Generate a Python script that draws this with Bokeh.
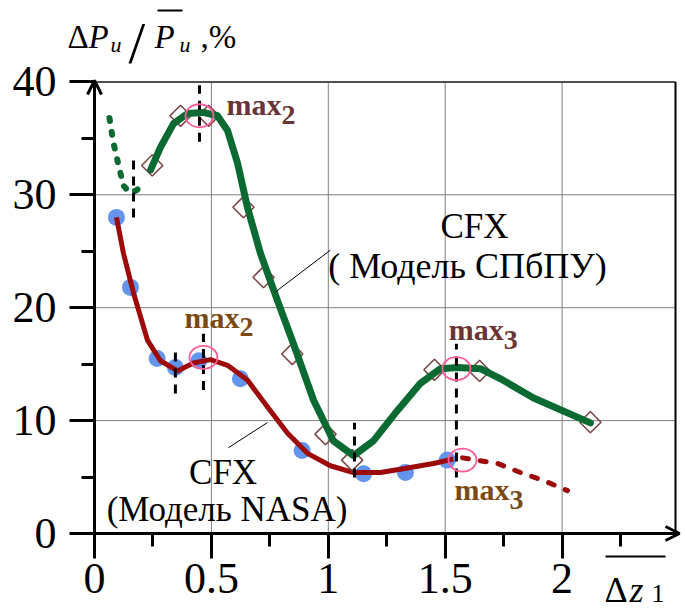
import numpy as np
from bokeh.plotting import figure
from bokeh.models import Range1d, FixedTicker, Label, Arrow, OpenHead
from bokeh.embed import file_html
from bokeh.resources import INLINE

# ---- axes ----
x_ticks = [0, 0.5, 1, 1.5, 2]
x_tick_labels = ["0", "0.5", "1", "1.5", "2"]
x_minor = [0.25, 0.75, 1.25, 1.75, 2.25]
y_ticks = [0, 10, 20, 30, 40]
y_tick_labels = ["0", "10", "20", "30", "40"]
y_minor = [5, 15, 25, 35]
x_grid = [0.5, 1, 1.5, 2]
y_grid = [10, 20, 30]
X_MAX = 2.485
Y_MAX = 40

# ---- CFX (Модель NASA): points ----
nasa_x = [0.094, 0.154, 0.268, 0.346, 0.446, 0.624, 0.888, 1.151, 1.33, 1.509]
nasa_y = [28.0, 21.8, 15.5, 14.7, 15.3, 13.7, 7.35, 5.3, 5.4, 6.5]
# curve
nasa_cx = [0.094, 0.124, 0.167, 0.227, 0.282, 0.355, 0.423, 0.496, 0.569, 0.654,
           0.740, 0.825, 0.911, 1.009, 1.108, 1.223, 1.339, 1.450, 1.535]
nasa_cy = [28.0, 24.8, 21.3, 17.1, 15.3, 14.4, 15.1, 15.4, 14.9, 13.6,
           11.2, 8.9, 7.1, 6.0, 5.4, 5.4, 5.8, 6.2, 6.6]
# dashed extension
nasa_ex = [1.574, 1.724, 1.822, 1.920, 2.023]
nasa_ey = [6.7, 6.2, 5.4, 4.7, 3.8]

# ---- CFX (Модель СПбПУ): points ----
spb_x = [0.247, 0.368, 0.488, 0.637, 0.723, 0.846, 0.988, 1.102, 1.454, 1.647, 2.121]
spb_y = [32.6, 37.0, 37.0, 28.9, 22.7, 15.9, 8.8, 6.5, 14.5, 14.4, 9.86]
spb_cx = [0.240, 0.282, 0.338, 0.398, 0.466, 0.526, 0.569, 0.612, 0.654, 0.710,
          0.783, 0.851, 0.937, 1.022, 1.108, 1.193, 1.296, 1.394, 1.480, 1.553,
          1.651, 1.737, 1.878, 2.121]
spb_cy = [32.2, 34.2, 36.3, 37.2, 37.3, 37.0, 35.7, 32.8, 28.9, 24.8,
          20.6, 16.8, 11.8, 8.2, 6.9, 8.2, 10.9, 13.3, 14.6, 14.7,
          14.6, 13.7, 12.0, 9.8]
spb_ex = [0.064, 0.081, 0.103, 0.124, 0.150, 0.180, 0.205]
spb_ey = [36.8, 34.6, 32.6, 30.8, 30.2, 30.4, 30.9]

# ---- extremum markers ----
mark_x = [0.167, 0.449, 0.346, 0.466, 1.112, 1.548]
mark_y0 = [28.0, 34.7, 12.4, 12.7, 4.96, 4.96]
mark_y1 = [33.1, 39.7, 16.6, 17.7, 9.8, 16.8]
ring_x = [0.449, 0.466, 1.548, 1.574]
ring_y = [37.0, 15.6, 14.6, 6.5]

GREEN = "#0b6a32"
RED = "#9c0a0a"
BLUE = "#6495ed"
DIAM = "#7a4242"
PINK = "#ff5c9a"
MAXC1 = "#6b3434"
MAXC2 = "#7a4a12"
SERIF = "Liberation Serif"

# canvas <-> data helpers (frame covers the whole canvas; axes are fixed at 0)
PX_X0, PX_PER_X = 94, 233.8
PX_Y0, PX_PER_Y = 533, 11.29
TXT_SHIFT = 11  # px correction for label baseline placement


def px2x(px):
    return (px - PX_X0) / PX_PER_X


def px2y(py):
    return (PX_Y0 - py) / PX_PER_Y


p = figure(width=685, height=616, title=None,
           x_range=Range1d(px2x(0), px2x(685)), y_range=Range1d(px2y(616), px2y(0)),
           output_backend="svg", toolbar_location=None,
           min_border_left=0, min_border_right=0, min_border_top=0, min_border_bottom=0)
p.background_fill_color = "white"
p.border_fill_color = "white"
p.outline_line_color = None
p.grid.visible = False

p.xaxis.ticker = FixedTicker(ticks=x_ticks, minor_ticks=x_minor)
p.yaxis.ticker = FixedTicker(ticks=y_ticks, minor_ticks=y_minor)
p.xaxis.major_label_overrides = dict(zip(x_ticks, x_tick_labels))
p.yaxis.major_label_overrides = dict(zip(y_ticks, y_tick_labels))
p.xaxis.fixed_location = 0
p.yaxis.fixed_location = 0
p.xaxis.bounds = (0, X_MAX)
p.yaxis.bounds = (0, Y_MAX)
for ax in p.axis:
    ax.axis_line_width = 3
    ax.axis_line_color = "black"
    ax.major_tick_line_width = 3
    ax.minor_tick_line_width = 3
    ax.major_tick_out = 25
    ax.major_tick_in = 0
    ax.minor_tick_out = 13
    ax.minor_tick_in = 0
    ax.major_label_text_font = SERIF
    ax.major_label_text_font_size = "44px"
    ax.major_label_text_color = "black"
p.xaxis.major_label_standoff = 5
p.yaxis.major_label_standoff = 13

# grid lines limited to the plotting box, and the box's top/right border
p.segment(x0=x_grid, y0=0, x1=x_grid, y1=Y_MAX, line_color="#808080", line_width=1)
p.segment(x0=0, y0=y_grid, x1=X_MAX, y1=y_grid, line_color="#808080", line_width=1)
p.segment(x0=0, y0=Y_MAX, x1=X_MAX, y1=Y_MAX, line_color="#505050", line_width=2)
p.segment(x0=X_MAX, y0=0, x1=X_MAX, y1=Y_MAX, line_color="black", line_width=2)

# axis arrows
p.add_layout(Arrow(end=OpenHead(size=14, line_width=3, line_color="black"),
                   x_start=0, y_start=38.5, x_end=0, y_end=px2y(80),
                   line_width=3, line_color="black"))
p.add_layout(Arrow(end=OpenHead(size=14, line_width=3, line_color="black"),
                   x_start=2.4, y_start=0, x_end=px2x(679), y_end=0,
                   line_width=3, line_color="black"))

# NASA series
p.scatter(nasa_x, nasa_y, size=17, color=BLUE, line_color=None)
p.line(nasa_cx, nasa_cy, line_color=RED, line_width=5, line_join="round")
p.line(nasa_ex, nasa_ey, line_color=RED, line_width=5, line_dash="6 12", line_cap="round")

# SPbPU series
p.scatter(spb_x, spb_y, marker="square", angle=np.pi / 4, size=15, fill_color=None,
          line_color=DIAM, line_width=1.5)
p.line(spb_cx, spb_cy, line_color=GREEN, line_width=7, line_join="round", line_cap="round")
p.line(spb_ex, spb_ey, line_color=GREEN, line_width=6, line_dash="3 11", line_cap="round")

# extremum markers
p.segment(x0=mark_x, y0=mark_y0, x1=mark_x, y1=mark_y1, line_color="black",
          line_width=3, line_dash="9 7")
p.ellipse(x=ring_x, y=ring_y, width=28, height=23, width_units="screen",
          height_units="screen", fill_color=None, line_color=PINK, line_width=1.8)

# leader lines
p.segment(x0=[1.009, 0.573], y0=[25.1, 7.6], x1=[0.774, 0.740], y1=[21.4, 9.83],
          line_color="black", line_width=1)


def lab(x, y, text, size, color="black", style="normal", align="left"):
    p.add_layout(Label(x=x, y=y + TXT_SHIFT / PX_PER_Y, text=text, text_font=SERIF,
                       text_font_size=size, text_color=color, text_font_style=style,
                       text_align=align, text_baseline="alphabetic"))


# max labels
SUB = px2x(PX_X0 + 55)
for (mx, my, sub, col) in [(0.565, 37.0, "2", MAXC1), (0.385, 18.2, "2", MAXC2),
                           (1.515, 17.1, "3", MAXC1), (1.54, 2.92, "3", MAXC2)]:
    lab(mx, my, "max", "30px", col, "bold")
    lab(mx + SUB, my - 0.9, sub, "28px", col, "bold")

# series labels
lab(1.625, 26.2, "CFX", "35px", align="center")
lab(1.595, 22.7, "( Модель СПбПУ)", "36px", align="center")
lab(0.55, 4.43, "CFX", "35px", align="center")
lab(0.567, 1.15, "(Модель NASA)", "35px", align="center")

# y-axis title
lab(px2x(67), px2y(47), "Δ", "33px")
lab(px2x(88), px2y(47), "P", "33px", style="italic")
lab(px2x(110), px2y(55), "и", "22px", style="italic")
lab(px2x(128), px2y(53), "/", "60px")
lab(px2x(154), px2y(47), "P", "33px", style="italic")
lab(px2x(179), px2y(55), "и", "22px", style="italic")
lab(px2x(200), px2y(47), ",%", "33px")
# x-axis title
lab(px2x(604), px2y(600), "Δ", "36px")
lab(px2x(629), px2y(600), "z", "36px", style="italic")
lab(px2x(651), px2y(604), "1", "26px")
# overlines
p.segment(x0=[px2x(157), px2x(605)], y0=[px2y(10), px2y(556)],
          x1=[px2x(182), px2x(665)], y1=[px2y(10), px2y(556)],
          line_color="black", line_width=2)

open("out.html", "w").write(file_html(p, INLINE))
